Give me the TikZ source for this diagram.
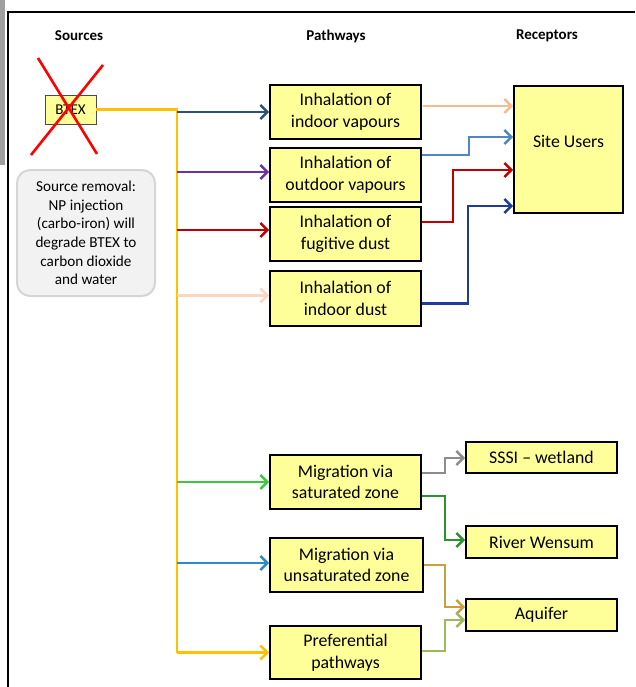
\documentclass[tikz,border=0pt]{standalone}
\usepackage{fontspec}
\setmainfont{Carlito}
\usetikzlibrary{arrows.meta}
\definecolor{boxfill}{HTML}{FFFF99}
\definecolor{orangeL}{HTML}{FFC000}
\definecolor{navyA}{HTML}{2A4F80}
\definecolor{purpleA}{HTML}{7030A0}
\definecolor{redA}{HTML}{C00000}
\definecolor{peachL}{HTML}{FCD5BC}
\definecolor{peachD}{HTML}{F7B98F}
\definecolor{blueL}{HTML}{4F86C6}
\definecolor{navyB}{HTML}{1F3C9C}
\definecolor{greenA}{HTML}{3CC83C}
\definecolor{blueA}{HTML}{2A8BC8}
\definecolor{grayA}{HTML}{8C8C8C}
\definecolor{greenB}{HTML}{2E9130}
\definecolor{tanA}{HTML}{C9A040}
\definecolor{greenC}{HTML}{9BBB59}
\definecolor{noteFill}{HTML}{F2F2F2}
\definecolor{noteDraw}{HTML}{D5D5D5}
\begin{document}
\begin{tikzpicture}[x=1pt,y=-1pt,
  pbox/.style={draw=black, line width=1.6pt, fill=boxfill, inner sep=0pt, align=center,
    font=\fontsize{17.8}{21.5}\selectfont},
  head/.style={font=\fontsize{15}{18}\selectfont\bfseries},
  arr/.style={line width=2.8pt, -{Straight Barb[length=7pt,width=14pt,line width=2.6pt]}},
  ln/.style={line width=2.8pt}]
\useasboundingbox (0,0) rectangle (635,687);
% frame
\fill[gray!75] (0,0) rectangle (5,165);
\draw[line width=2pt] (8,687) -- (8,12) -- (635,12);
% headings
\node[head] (hs) at (79,36) {Sources};
\node[head] (hp) at (336,36) {Pathways};
\node[head] (hr) at (547,36) {Receptors};
% source
\node[draw=black!70, line width=0.8pt, fill=boxfill, minimum width=51pt, minimum height=29pt, inner sep=0pt,
  font=\fontsize{15}{18}\selectfont] (btex) at (70.5,109.5) {BTEX};
\draw[red, line width=2.6pt] (38,58) -- (97,154);
\draw[red, line width=2.6pt] (103,65) -- (31,155);
\node[draw=noteDraw, line width=2pt, fill=noteFill, rounded corners=13pt, minimum width=138pt, minimum height=126pt,
  inner sep=0pt, align=center, font=\fontsize{15.2}{18.6}\selectfont] (note) at (86,233)
  {Source removal:\\NP injection\\(carbo-iron) will\\degrade BTEX to\\carbon dioxide\\and water};
% pathways
\node[pbox, minimum width=151pt, minimum height=54pt] (iv) at (345.5,112) {Inhalation of\\indoor vapours};
\node[pbox, minimum width=151pt, minimum height=54pt] (ov) at (345.5,175) {Inhalation of\\outdoor vapours};
\node[pbox, minimum width=151pt, minimum height=54pt] (fd) at (345.5,234) {Inhalation of\\fugitive dust};
\node[pbox, minimum width=151pt, minimum height=55pt] (id) at (345.5,298.5) {Inhalation of\\indoor dust};
\node[pbox, minimum width=151pt, minimum height=54pt] (ms) at (345.5,482) {Migration via\\saturated zone};
\node[pbox, minimum width=153pt, minimum height=54pt] (mu) at (346.5,565) {Migration via\\unsaturated zone};
\node[pbox, minimum width=151pt, minimum height=53pt] (pp) at (345.5,652.5) {Preferential\\pathways};
% receptors
\node[pbox, minimum width=109pt, minimum height=127pt] (su) at (568.5,149.5) {};
\node[font=\fontsize{17.8}{21.5}\selectfont] (sut) at (568.5,141) {Site Users};
\node[pbox, minimum width=151pt, minimum height=31pt] (ss) at (541.5,457.5) {SSSI – wetland};
\node[pbox, minimum width=151pt, minimum height=32pt] (rw) at (541.5,542) {River Wensum};
\node[pbox, minimum width=151pt, minimum height=32pt] (aq) at (541.5,615) {Aquifer};
% trunk
\coordinate (t1) at (177,109.5);
\coordinate (tb) at (177,652.5);
\draw[ln, orangeL] (btex.east) -- (t1) -- (tb);
\draw[arr, orangeL] (tb) -- (pp.west);
\draw[arr, navyA] (iv.west -| t1) -- (iv.west);
\draw[arr, purpleA] ([yshift=3pt]ov.west -| t1) -- ([yshift=3pt]ov.west);
\draw[arr, redA] ([yshift=4pt]fd.west -| t1) -- ([yshift=4pt]fd.west);
\draw[arr, peachL] ([yshift=3pt]id.west -| t1) -- ([yshift=3pt]id.west);
\draw[arr, greenA] (ms.west -| t1) -- (ms.west);
\draw[arr, blueA] ([yshift=2pt]mu.west -| t1) -- ([yshift=2pt]mu.west);
% to site users
\coordinate (c1) at (423,106);
\draw[arr, peachD] (c1) -- (c1 -| su.west);
\coordinate (c2) at (469,137);
\draw[arr, blueL] ([yshift=20pt]ov.east) -| (c2) -- (c2 -| su.west);
\coordinate (c3) at (453,170);
\draw[arr, redA] ([yshift=12pt]fd.east) -| (c3) -- (c3 -| su.west);
\coordinate (c4) at (468,206);
\draw[arr, navyB] ([yshift=-5pt]id.east) -| (c4) -- (c4 -| su.west);
% lower receptors
\coordinate (d1) at (445,458);
\draw[arr, grayA] ([yshift=9pt]ms.east) -| (d1) -- (d1 -| ss.west);
\coordinate (d2) at (445,540);
\draw[arr, greenB] ([yshift=-14pt]ms.east) -| (d2) -- (d2 -| rw.west);
\coordinate (d3) at (445,607);
\draw[arr, tanA] (mu.east) -| (d3) -- (d3 -| aq.west);
\coordinate (d4) at (445,620);
\draw[arr, greenC] ([yshift=1.5pt]pp.east) -| (d4) -- (d4 -| aq.west);
\end{tikzpicture}
\end{document}
